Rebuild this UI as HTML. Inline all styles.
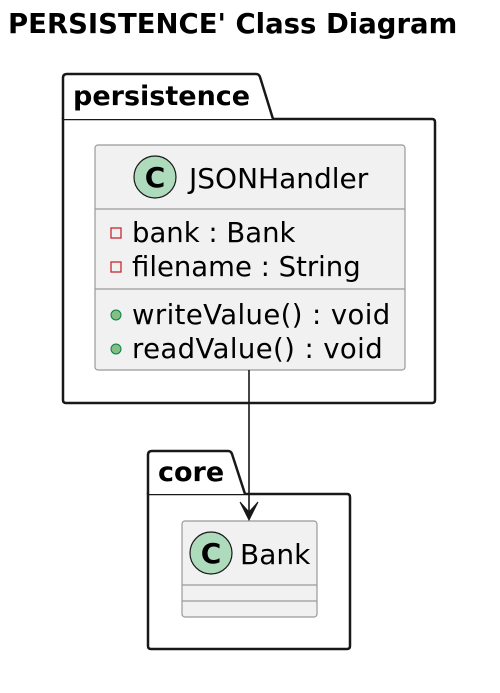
<!DOCTYPE html>
<html><head><style>body{margin:0;background:#fff;width:500px;height:688px;overflow:hidden}</style></head>
<body>
<svg width="500" height="688" xmlns="http://www.w3.org/2000/svg" font-family="'DejaVu Sans', 'Liberation Sans', sans-serif">
<text x="8" y="33" font-size="27.5" font-weight="bold" fill="#000">PERSISTENCE' Class Diagram</text>
<!-- persistence package -->
<path d="M63,119 L432,119 Q435,119 435,122 L435,400 Q435,403 432,403 L66,403 Q63,403 63,400 Z" fill="#fff" stroke="#181818" stroke-width="2.5"/>
<path d="M63,119 L63,78 Q63,74 67,74 L256,74 Q259,74 260,77 L273,119" fill="#fff" stroke="#181818" stroke-width="2.5"/>
<text x="73" y="105" font-size="27" font-weight="bold" fill="#000">persistence</text>
<rect x="95" y="145" width="310" height="225" rx="3" fill="#f1f1f1" stroke="#999" stroke-width="1.2"/>
<line x1="95" y1="209" x2="405" y2="209" stroke="#999" stroke-width="1.2"/>
<line x1="95" y1="289" x2="405" y2="289" stroke="#999" stroke-width="1.2"/>
<circle cx="155" cy="177" r="21" fill="#addbbc" stroke="#181818" stroke-width="1.2"/>
<text x="155" y="187" font-size="28" font-weight="bold" text-anchor="middle" fill="#000">C</text>
<text x="189" y="188" font-size="28" fill="#000">JSONHandler</text>
<rect x="111" y="228" width="10" height="10" fill="none" stroke="#c82930" stroke-width="1.3"/>
<rect x="111" y="262" width="10" height="10" fill="none" stroke="#c82930" stroke-width="1.3"/>
<circle cx="116" cy="315" r="5" fill="#84be84" stroke="#038048" stroke-width="1"/>
<circle cx="116" cy="349" r="5" fill="#84be84" stroke="#038048" stroke-width="1"/>
<g font-size="27.5" fill="#000">
<text x="132" y="242">bank : Bank</text>
<text x="132" y="276">filename : String</text>
<text x="132" y="324" letter-spacing="0.4">writeValue() : void</text>
<text x="132" y="358" letter-spacing="0.4">readValue() : void</text>
</g>
<!-- core package -->
<path d="M148,494 L347,494 Q350,494 350,497 L350,646 Q350,649 347,649 L151,649 Q148,649 148,646 Z" fill="#fff" stroke="#181818" stroke-width="2.5"/>
<path d="M148,494 L148,455 Q148,451 152,451 L228,451 Q231,451 232,454 L245,494" fill="#fff" stroke="#181818" stroke-width="2.5"/>
<text x="158" y="481" font-size="27" font-weight="bold" fill="#000">core</text>
<rect x="182" y="521" width="135" height="96" rx="3" fill="#f1f1f1" stroke="#999" stroke-width="1.2"/>
<line x1="182" y1="585" x2="317" y2="585" stroke="#999" stroke-width="1.2"/>
<line x1="182" y1="601" x2="317" y2="601" stroke="#999" stroke-width="1.2"/>
<circle cx="211" cy="553" r="21" fill="#addbbc" stroke="#181818" stroke-width="1.2"/>
<text x="211" y="563" font-size="28" font-weight="bold" text-anchor="middle" fill="#000">C</text>
<text x="240" y="564" font-size="28" fill="#000">Bank</text>
<!-- arrow -->
<line x1="249" y1="370" x2="249" y2="518" stroke="#181818" stroke-width="1.6"/>
<path d="M240,502 L249,520 L258,502 L249,512 Z" fill="#181818" stroke="#181818" stroke-width="1"/>
</svg>
</body></html>
